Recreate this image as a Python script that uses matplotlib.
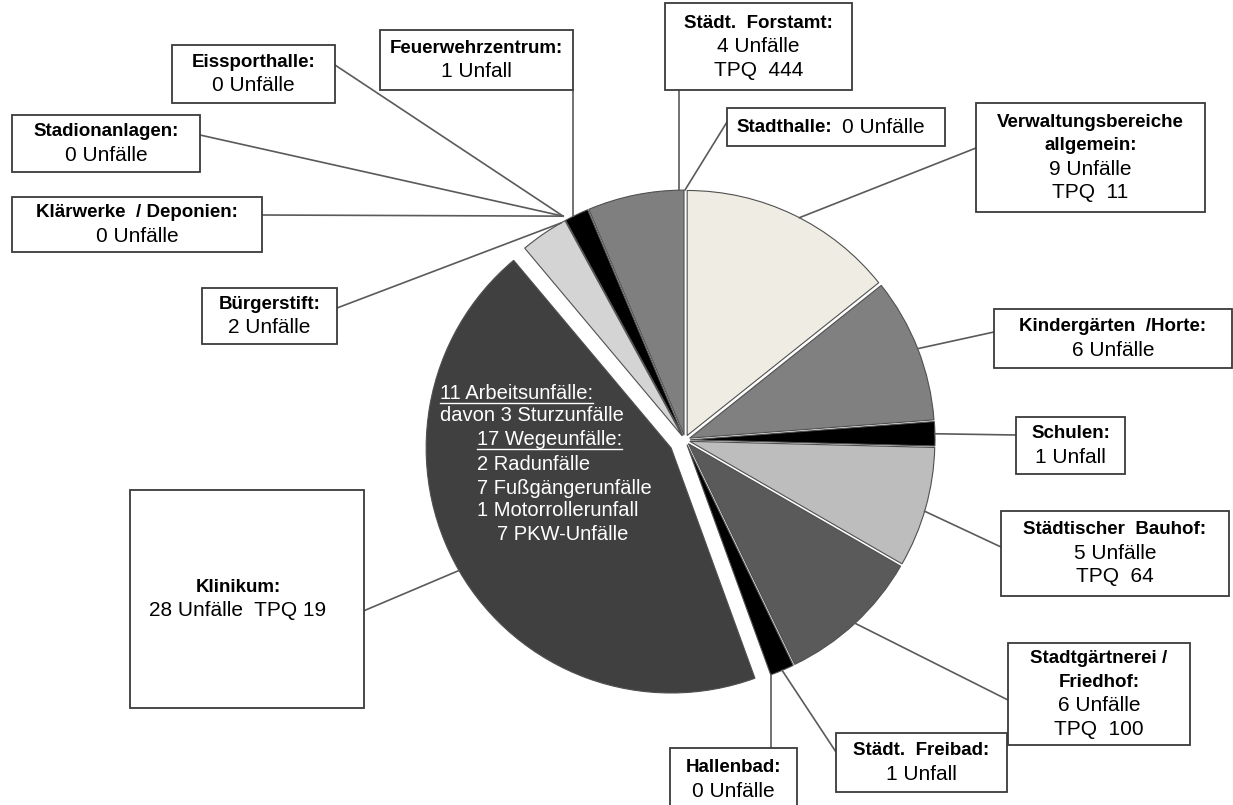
import matplotlib
matplotlib.use("Agg")
from matplotlib import pyplot as plt
from matplotlib.patches import Rectangle
import numpy as np

plt.rcParams['font.family'] = ['Liberation Sans', 'DejaVu Sans']

# data: accidents per department (clockwise from 12 o'clock)
bereiche = ["Verwaltungsbereiche allgemein", "Kindergärten /Horte", "Schulen",
            "Städtischer Bauhof", "Stadtgärtnerei / Friedhof", "Städt. Freibad",
            "Hallenbad", "Klinikum", "Bürgerstift", "Klärwerke / Deponien",
            "Stadionanlagen", "Eissporthalle", "Feuerwehrzentrum",
            "Städt. Forstamt", "Stadthalle"]
unfaelle = [9, 6, 1, 5, 6, 1, 0, 28, 2, 0, 0, 0, 1, 4, 0]
tpq = [11, None, None, 64, 100, None, None, 19, None, None, None, None, None, 444, None]

# label headings (bold part) per slice
titel = [["Verwaltungsbereiche", "allgemein:"], ["Kindergärten  /Horte:"], ["Schulen:"],
         ["Städtischer  Bauhof:"], ["Stadtgärtnerei /", "Friedhof:"], ["Städt.  Freibad:"],
         ["Hallenbad:"], ["Klinikum:"], ["Bürgerstift:"], ["Klärwerke  / Deponien:"],
         ["Stadionanlagen:"], ["Eissporthalle:"], ["Feuerwehrzentrum:"],
         ["Städt.  Forstamt:"], ["Stadthalle:"]]

klinikum_details = [("11 Arbeitsunfälle:", True), ("davon 3 Sturzunfälle", False),
                    ("17 Wegeunfälle:", True), ("2 Radunfälle", False),
                    ("7 Fußgängerunfälle", False), ("1 Motorrollerunfall", False),
                    ("7 PKW-Unfälle", False)]

# styling / layout
farben = ["#efede3", "#808080", "#000000", "#bdbdbd", "#5a5a5a", "#000000",
          "#000000", "#404040", "#d4d4d4", "#000000", "#000000", "#000000",
          "#000000", "#7f7f7f", "#000000"]
explode = [5, 5, 5, 5, 5, 5, 5, 16, 5, 5, 5, 5, 5, 5, 5]

# boxes in pixel coords: (x0, y0, x1, y1)
boxen = [(976, 103, 1205, 212), (994, 309, 1232, 368), (1016, 417, 1125, 474),
         (1001, 511, 1229, 596), (1008, 643, 1190, 745), (836, 733, 1007, 792),
         (670, 748, 797, 810), (130, 490, 364, 708), (202, 288, 337, 344),
         (12, 197, 262, 252), (12, 115, 200, 172), (172, 45, 335, 103),
         (380, 30, 573, 90), (665, 3, 852, 90), (727, 108, 945, 146)]
# where the leader leaves the box
leiter_box = [(976, 148), (994, 332), (1016, 435), (1001, 547), (1008, 700),
              (836, 752), ("v", 748), (335, 623), (337, 308), (262, 215),
              (200, 135), (335, 65), ("v", 90), ("v", 90), (727, 122)]
# position on the wedge (fraction along arc, radius factor)
leiter_pie = [(0.53, 1.0), (0.5, 1.0), (0.5, 1.0), (0.53, 1.0), (0.5, 1.0),
              (0.5, 1.0), (0.5, 1.0), (0.5, 1.0), (0.9, 1.0), (0.5, 1.02),
              (0.5, 1.02), (0.5, 1.02), (0.35, 1.0), (0.95, 1.0), (0.5, 1.0)]

W, H = 1233, 805
fig = plt.figure(figsize=(W / 100, H / 100), dpi=100)
ax = fig.add_axes([0, 0, 1, 1])

wedges, _ = ax.pie(unfaelle, explode=explode, colors=farben, startangle=-90,
                   counterclock=True, radius=245, center=(685, 440),
                   wedgeprops=dict(edgecolor="#505050", linewidth=0.8))
for w, v in zip(wedges, unfaelle):
    if v == 0:
        w.set_linewidth(0)

ax.set_xlim(0, W)
ax.set_ylim(H, 0)
ax.set_aspect("equal")
ax.axis("off")

fs = 15
fs_bold = 13.5
lc = "#5a5a5a"

for i, w in enumerate(wedges):
    x0, y0, x1, y1 = boxen[i]
    ax.add_patch(Rectangle((x0, y0), x1 - x0, y1 - y0, facecolor="white",
                           edgecolor="#3a3a3a", linewidth=1.3, zorder=3))
    # anchor on wedge
    f, rf = leiter_pie[i]
    th = np.deg2rad(w.theta1 + f * (w.theta2 - w.theta1))
    px = w.center[0] + w.r * rf * np.cos(th)
    py = w.center[1] + w.r * rf * np.sin(th)
    bx, by = leiter_box[i]
    if bx == "v":
        bx = px
    ax.plot([bx, px], [by, py], color=lc, linewidth=1.2, zorder=2)

    cx = (x0 + x1) / 2
    if bereiche[i] == "Stadthalle":
        cy = (y0 + y1) / 2
        t = ax.text(x0 + 9, cy, titel[i][0], fontsize=fs_bold, fontweight="bold",
                    ha="left", va="center", zorder=4)
        fig.canvas.draw()
        bb = t.get_window_extent().transformed(ax.transData.inverted())
        ax.text(bb.x1 + 10, cy, f"{unfaelle[i]} Unfälle", fontsize=fs,
                ha="left", va="center", zorder=4)
        continue

    zeilen = [(s, "bold") for s in titel[i]]
    anzahl = f"{unfaelle[i]} Unfall" if unfaelle[i] == 1 else f"{unfaelle[i]} Unfälle"
    if bereiche[i] == "Klinikum":
        zeilen.append((f"{anzahl}  TPQ {tpq[i]}", "normal"))
        cx = 238
    else:
        zeilen.append((anzahl, "normal"))
        if tpq[i] is not None:
            zeilen.append((f"TPQ  {tpq[i]}", "normal"))
    dy = 23.5
    cy = (y0 + y1) / 2 - dy * (len(zeilen) - 1) / 2
    if bereiche[i] == "Hallenbad":
        cy = y0 + 20
    for k, (s, fw) in enumerate(zeilen):
        ax.text(cx, cy + k * dy, s, fontsize=fs_bold if fw == "bold" else fs,
                fontweight=fw, ha="center", va="center", zorder=4)

# details inside the Klinikum slice
pos = [(440, 393), (440, 415), (477, 439), (477, 464), (477, 488), (477, 511), (497, 535)]
fig.canvas.draw()
for (s, ul), (x, y) in zip(klinikum_details, pos):
    t = ax.text(x, y, s, fontsize=14.5, color="white", ha="left", va="center", zorder=4)
    if ul:
        bb = t.get_window_extent().transformed(ax.transData.inverted())
        ax.plot([bb.x0, bb.x1], [y + 10, y + 10], color="white", linewidth=1, zorder=4)

fig.savefig("out.png", dpi=100, facecolor="white")
